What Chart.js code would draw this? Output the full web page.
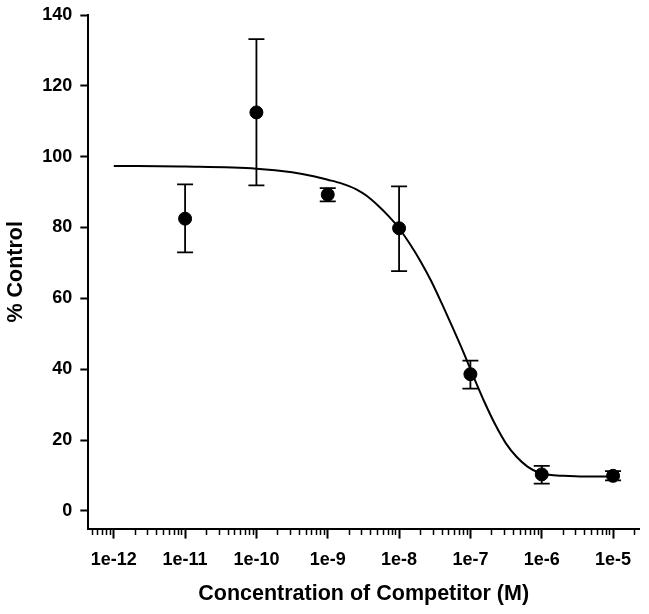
<!DOCTYPE html>
<html>
<head>
<meta charset="utf-8">
<script src="https://cdn.jsdelivr.net/npm/chart.js@4.4.1/dist/chart.umd.min.js"></script>
<style>
  html, body { margin: 0; padding: 0; background: #fff; }
  #wrap { width: 649px; height: 614px; position: relative; }
</style>
</head>
<body>
<div id="wrap"><canvas id="chart"></canvas></div>
<script>
// ==========================================================
// 1. DATOS
// ==========================================================

// Concentraciones medidas (M) y % control
const concentrations = [1e-11, 1e-10, 1e-9, 1e-8, 1e-7, 1e-6, 1e-5];
const meanControl = [82.5, 112.5, 89.3, 79.8, 38.6, 10.3, 9.9];
const errHigh = [92.2, 133.2, 91.1, 91.6, 42.4, 12.7, 11.2];
const errLow = [73.0, 91.9, 87.4, 67.7, 34.5, 7.7, 8.6];

// Curva ajustada (muestras), x en log10(M)
const curveLogConc = [-12, -11, -10, -9.5, -9.2, -9.0, -8.8, -8.6, -8.45, -8.3,
                      -8.15, -8.0, -7.85, -7.7, -7.55, -7.4, -7.25, -7.1, -6.95, -6.8,
                      -6.65, -6.5, -6.35, -6.2, -6.05, -5.9, -5.7, -5.4, -5.0];
const curveControl = [97.4, 97.2, 96.6, 95.6, 94.5, 93.5, 92.4, 90.8, 88.9, 86.3,
                      83.3, 79.8, 75.4, 70.5, 64.9, 58.5, 51.8, 44.9, 37.6, 30.6,
                      24.3, 19.0, 15.2, 12.5, 10.9, 10.2, 9.9, 9.7, 9.7];

// Marcas de los ejes
const xDecades = [1e-13, 1e-12, 1e-11, 1e-10, 1e-9, 1e-8, 1e-7, 1e-6, 1e-5];
const xMinorSteps = [1, 2, 3, 4, 5, 6, 7, 8, 9];
const yTicks = [0, 20, 40, 60, 80, 100, 120, 140];

const X_MIN = 4.4e-13;
const X_MAX = 2.31e-5;
const FONT = '"Liberation Sans", Arial, Helvetica, sans-serif';

function isDecade(v) {
    const l = Math.log10(v);
    return Math.abs(l - Math.round(l)) < 1e-6;
}

// ==========================================================
// 2. PLUGIN DE BARRAS DE ERROR
// ==========================================================
const errorBars = {
    id: 'errorBars',
    beforeDatasetsDraw(chart) {
        const { ctx, scales: { x, y } } = chart;
        ctx.save();
        ctx.strokeStyle = '#000';
        ctx.lineWidth = 1.8;
        const cap = 8;
        concentrations.forEach((c, i) => {
            const px = x.getPixelForValue(c);
            const top = y.getPixelForValue(errHigh[i]);
            const bot = y.getPixelForValue(errLow[i]);
            ctx.beginPath();
            ctx.moveTo(px, top); ctx.lineTo(px, bot);
            ctx.moveTo(px - cap, top); ctx.lineTo(px + cap, top);
            ctx.moveTo(px - cap, bot); ctx.lineTo(px + cap, bot);
            ctx.stroke();
        });
        ctx.restore();
    }
};

// ==========================================================
// 3. GRAFICO
// ==========================================================
new Chart(document.getElementById('chart'), {
    type: 'scatter',
    data: {
        datasets: [
            {
                label: 'Ajuste',
                type: 'line',
                data: curveLogConc.map((l, i) => ({ x: Math.pow(10, l), y: curveControl[i] })),
                borderColor: '#000',
                borderWidth: 2,
                pointRadius: 0,
                fill: false,
                cubicInterpolationMode: 'monotone'
            },
            {
                label: '% Control',
                data: concentrations.map((c, i) => ({ x: c, y: meanControl[i] })),
                backgroundColor: '#000',
                borderColor: '#000',
                pointRadius: 6.5,
                pointHoverRadius: 6.5
            }
        ]
    },
    options: {
        responsive: true,
        maintainAspectRatio: false,
        animation: false,
        layout: { padding: { top: 15, right: 10, bottom: 3, left: 0 } },
        plugins: {
            legend: { display: false },
            tooltip: { enabled: false }
        },
        scales: {
            x: {
                type: 'logarithmic',
                min: X_MIN,
                max: X_MAX,
                afterBuildTicks(scale) {
                    const t = [];
                    xDecades.forEach(d => {
                        xMinorSteps.forEach(k => {
                            const v = k * d;
                            if (v >= X_MIN && v <= X_MAX) t.push({ value: v, major: k === 1 });
                        });
                    });
                    scale.ticks = t;
                },
                border: { color: '#000', width: 2 },
                grid: {
                    drawOnChartArea: false,
                    tickLength: 10,
                    tickColor: '#000',
                    tickWidth: ctx => (ctx.tick && ctx.tick.major ? 2 : 1.5),
                    tickBorderDash: ctx => (ctx.tick && ctx.tick.major ? [] : [5, 30])
                },
                ticks: {
                    autoSkip: false,
                    maxRotation: 0,
                    minRotation: 0,
                    padding: 10.5,
                    color: '#000',
                    font: { family: FONT, size: 18, weight: 'bold' },
                    callback: v => (isDecade(v) ? '1e' + Math.round(Math.log10(v)) : '')
                },
                title: {
                    display: true,
                    text: 'Concentration of Competitor (M)',
                    color: '#000',
                    font: { family: FONT, size: 21.5, weight: 'bold' },
                    padding: { top: 0, bottom: 4 }
                }
            },
            y: {
                min: -5,
                max: 140,
                afterBuildTicks(scale) {
                    scale.ticks = yTicks.map(v => ({ value: v }));
                },
                border: { color: '#000', width: 2 },
                grid: {
                    drawOnChartArea: false,
                    tickLength: 8,
                    tickColor: '#000',
                    tickWidth: 2
                },
                ticks: {
                    padding: 8,
                    color: '#000',
                    font: { family: FONT, size: 18, weight: 'bold', lineHeight: 0.7 }
                },
                title: {
                    display: true,
                    text: '% Control',
                    color: '#000',
                    font: { family: FONT, size: 21.5, weight: 'bold' },
                    padding: { top: 3, bottom: 5.5 }
                }
            }
        }
    },
    plugins: [errorBars]
});
</script>
</body>
</html>
